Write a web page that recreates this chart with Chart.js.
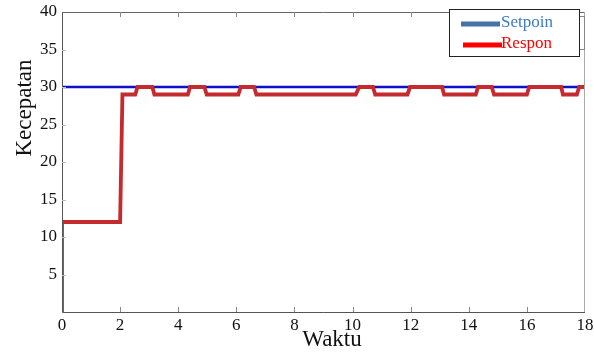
<!DOCTYPE html>
<html><head><meta charset="utf-8">
<script src="https://cdn.jsdelivr.net/npm/chart.js@4/dist/chart.umd.min.js"></script>
<style>html,body{margin:0;padding:0;background:#fff}canvas{display:block}</style>
</head><body>
<canvas id="c" width="594" height="356"></canvas>
<script>
const xTicks = [0,2,4,6,8,10,12,14,16,18];
const yTicks = [5,10,15,20,25,30,35,40];
const setpointTime = [0, 18];
const setpointValue = [30, 30];
const responTime = [0,0,2.0,2.08,2.52,2.6,3.11,3.18,4.33,4.41,4.90,4.98,6.07,6.15,6.61,6.69,10.11,10.23,10.70,10.78,11.89,11.98,13.08,13.15,14.24,14.32,14.79,14.87,16.0,16.08,17.18,17.24,17.72,17.80,18];
const responValue = [0,12,12,29,29,30,30,29,29,30,30,29,29,30,30,29,29,30,30,29,29,30,30,29,29,30,30,29,29,30,30,29,29,30,30];
const labels = ['Setpoin','Respon'];
const xTitle = 'Waktu';
const yTitle = 'Kecepatan';

const toPts = (t,v)=>t.map((x,i)=>({x:x,y:v[i]}));
const serif = "'Liberation Serif', serif";
Chart.defaults.font.family = serif;

const framePlugin = {
  id:'frame',
  afterDraw(chart){
    const {ctx, chartArea:a, scales:{x,y}} = chart;
    ctx.save();
    ctx.lineWidth=1;
    ctx.strokeStyle='#555';
    ctx.beginPath(); ctx.moveTo(a.left+0.5,a.top); ctx.lineTo(a.left+0.5,a.bottom+0.5); ctx.lineTo(a.right,a.bottom+0.5); ctx.stroke();
    ctx.strokeStyle='#666';
    ctx.beginPath(); ctx.moveTo(a.left,a.top+0.5); ctx.lineTo(a.right,a.top+0.5); ctx.stroke();
    ctx.strokeStyle='#aaa';
    ctx.beginPath(); ctx.moveTo(a.right-0.5,a.top); ctx.lineTo(a.right-0.5,a.bottom); ctx.stroke();
    ctx.strokeStyle='#888';
    xTicks.forEach(v=>{ if(v===0||v===18) return; const px=Math.round(x.getPixelForValue(v))+0.5;
      ctx.beginPath(); ctx.moveTo(px,a.bottom); ctx.lineTo(px,a.bottom-5); ctx.stroke();
      ctx.beginPath(); ctx.moveTo(px,a.top); ctx.lineTo(px,a.top+5); ctx.stroke(); });
    ctx.strokeStyle='#bbb';
    yTicks.forEach(v=>{ if(v===40) return; const py=Math.round(y.getPixelForValue(v))+0.5;
      ctx.beginPath(); ctx.moveTo(a.left,py); ctx.lineTo(a.left+4,py); ctx.stroke(); });
    ctx.fillStyle='#111';
    ctx.font="23px "+serif; ctx.textAlign='center'; ctx.textBaseline='middle';
    ctx.fillText(xTitle, 332, 340);
    ctx.save(); ctx.translate(25,108); ctx.rotate(-Math.PI/2); ctx.fillText(yTitle,0,0); ctx.restore();
    const lx=449, ly=9, lw=130, lh=47;
    ctx.lineWidth=1;
    ctx.strokeStyle='#888'; ctx.fillStyle='#fff';
    ctx.strokeRect(lx+5.5, ly+7.5, lw, lh-14);
    ctx.fillRect(lx,ly,lw,lh);
    ctx.strokeStyle='#222';
    ctx.strokeRect(lx+0.5, ly+0.5, lw, lh);
    ctx.lineWidth=5;
    ctx.strokeStyle='#4472a8';
    ctx.beginPath(); ctx.moveTo(461,24); ctx.lineTo(500,24); ctx.stroke();
    ctx.strokeStyle='#ff0000';
    ctx.beginPath(); ctx.moveTo(463,45); ctx.lineTo(502,45); ctx.stroke();
    ctx.font="17px "+serif; ctx.textBaseline='middle'; ctx.textAlign='left';
    ctx.fillStyle='#3d7cc0'; ctx.fillText(labels[0],501,23);
    ctx.fillStyle='#ff0000'; ctx.fillText(labels[1],501,44);
    ctx.restore();
  }
};

new Chart(document.getElementById('c'),{
  type:'line',
  data:{datasets:[
    {label:labels[1], data:toPts(responTime,responValue), borderColor:'#c42a2e', borderWidth:3.8, pointRadius:0, tension:0, order:0},
    {label:labels[0], data:toPts(setpointTime,setpointValue), borderColor:'#1010c8', borderWidth:2.5, pointRadius:0, tension:0, order:1}
  ]},
  options:{
    responsive:false, animation:false, events:[],
    layout:{padding:{left:0,right:9,top:12,bottom:0}},
    plugins:{legend:{display:false},tooltip:{enabled:false}},
    scales:{
      x:{type:'linear',min:0,max:18,
        afterBuildTicks(s){s.ticks=xTicks.map(v=>({value:v}));},
        afterFit(s){s.height=44; s.paddingLeft=0; s.paddingRight=0;},
        grid:{display:false,drawTicks:false}, border:{display:false},
        ticks:{color:'#111',font:{family:serif,size:17},padding:3,maxRotation:0,autoSkip:false}
      },
      y:{type:'linear',min:0,max:40,
        afterBuildTicks(s){s.ticks=yTicks.map(v=>({value:v}));},
        afterFit(s){s.width=62; s.paddingTop=0; s.paddingBottom=0;},
        grid:{display:false,drawTicks:false}, border:{display:false},
        ticks:{color:'#111',font:{family:serif,size:17},padding:5,autoSkip:false}
      }
    }
  },
  plugins:[framePlugin]
});
</script>
</body></html>
